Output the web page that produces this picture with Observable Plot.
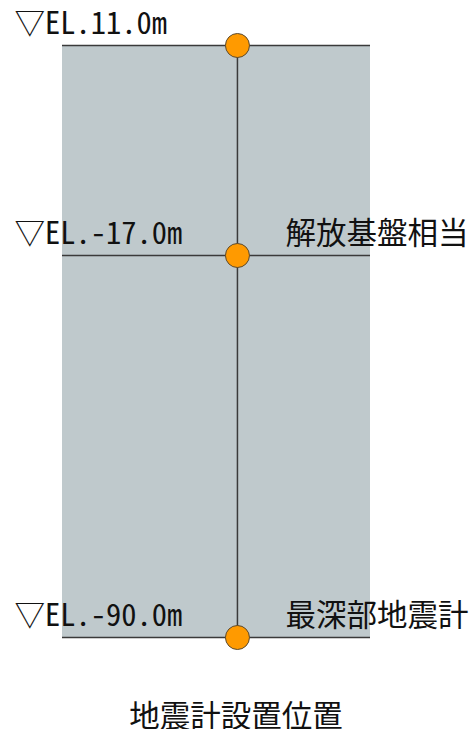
<!DOCTYPE html>
<html>
<head>
<meta charset="utf-8">
<script src="https://cdn.jsdelivr.net/npm/d3@7"></script>
<script src="https://cdn.jsdelivr.net/npm/@observablehq/plot@0.6"></script>
<style>
  body { margin: 0; background: #fff; overflow: hidden; }
  #chart svg { display: block; overflow: visible; }
  #caption { width: 472px; text-align: center; font-family: "Noto Sans Mono CJK JP", "Noto Sans CJK JP", sans-serif; font-size: 30.5px; line-height: 30px; margin-top: 9px; color: #111; }
</style>
</head>
<body>
<div id="chart"></div>
<div id="caption"></div>
<script>
// Data
const elevations = [11.0, -17.0, -90.0];           // m
const elevationLabels = ["▽EL.11.0m", "▽EL.-17.0m", "▽EL.-90.0m"];
const sensorNotes = ["", "解放基盤相当", "最深部地震計"];
const captionText = "地震計設置位置";

const FONT = '"Noto Sans Mono CJK JP", "Noto Sans CJK JP", sans-serif';
const BORE_X = 0.568; // borehole position across the ground column (0..1)

const rows = elevations.map((e, i) => ({elev: e, label: elevationLabels[i], note: sensorNotes[i]}));
const elevTop = d3.max(elevations), elevBottom = d3.min(elevations);

const chart = Plot.plot({
  width: 472,
  height: 690,
  marginLeft: 62,
  marginRight: 102,
  marginTop: 45,
  marginBottom: 53,
  x: {domain: [0, 1], axis: null},
  y: {type: "linear", domain: elevations, range: [45, 255, 637], axis: null},
  style: {fontFamily: FONT, background: "#fff"},
  marks: [
    Plot.rect([{x1: 0, x2: 1, y1: elevTop, y2: elevBottom}], {x1: "x1", x2: "x2", y1: "y1", y2: "y2", fill: "#bfc9cc"}),
    Plot.ruleY(rows, {y: "elev", x1: 0, x2: 1, stroke: "#3a3a3a", strokeWidth: 1.5}),
    Plot.ruleX([BORE_X], {y1: elevTop, y2: elevBottom, stroke: "#3a3a3a", strokeWidth: 1.5}),
    Plot.dot(rows, {x: BORE_X, y: "elev", r: 12, fill: "#ff9a00", stroke: "#5a4a30", strokeWidth: 1}),
    Plot.text(rows, {x: 0, y: "elev", text: "label", textAnchor: "start", dx: -48, dy: -21, fontSize: 30.5, fill: "#111", fontFamily: FONT}),
    Plot.text(rows, {x: 1, y: "elev", text: "note", textAnchor: "end", dx: 98, dy: -21, fontSize: 30.5, fill: "#111", fontFamily: FONT})
  ]
});
document.getElementById("chart").append(chart);
document.getElementById("caption").textContent = captionText;
</script>
</body>
</html>
